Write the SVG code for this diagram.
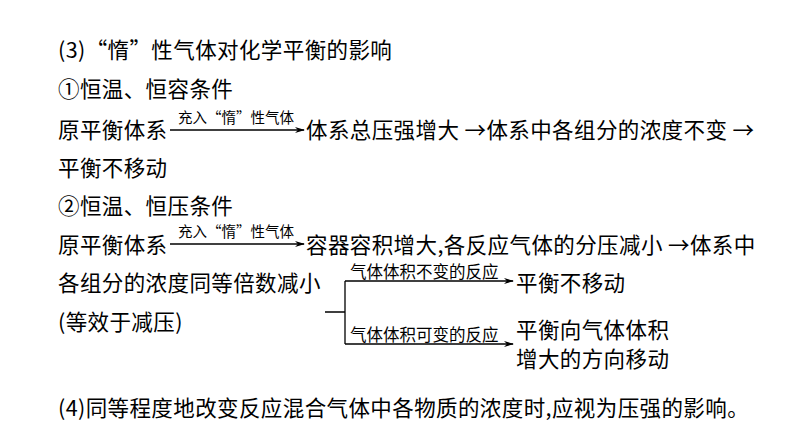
<svg xmlns="http://www.w3.org/2000/svg" width="794" height="445" viewBox="0 0 794 445">
<style>
text{font-family:"Noto Sans CJK SC","Liberation Sans",sans-serif;fill:#000}
.t{font-size:21.5px;letter-spacing:0.4px}
.s{font-size:14.5px}
.b{font-size:16.5px}
.c{stroke:#000;stroke-width:1.3;fill:none}
</style>
<defs><marker id="a" markerWidth="10" markerHeight="6" refX="9" refY="3" orient="auto" markerUnits="userSpaceOnUse"><path d="M0,0 L10,3 L0,6 L3,3z" fill="#000"/></marker></defs>
<rect width="794" height="445" fill="#fff"/>
<g id="texts">
<text class="t" x="58" y="58">(3)“惰”性气体对化学平衡的影响</text>
<text class="t" x="58" y="97">①恒温、恒容条件</text>
<text class="t" x="58" y="138">原平衡体系</text>
<text class="t" x="306" y="138">体系总压强增大 →体系中各组分的浓度不变 →</text>
<text class="t" x="58" y="176">平衡不移动</text>
<text class="t" x="58" y="214">②恒温、恒压条件</text>
<text class="t" x="58" y="253">原平衡体系</text>
<text class="t" x="306" y="253">容器容积增大,各反应气体的分压减小 →体系中</text>
<text class="t" x="58" y="291">各组分的浓度同等倍数减小</text>
<text class="t" x="58" y="330">(等效于减压)</text>
<text class="t" x="516" y="291">平衡不移动</text>
<text class="t" x="516" y="338">平衡向气体体积</text>
<text class="t" x="516" y="367">增大的方向移动</text>
<text class="t" x="58" y="416">(4)同等程度地改变反应混合气体中各物质的浓度时,应视为压强的影响。</text>
</g>
<g id="connectors">
<path class="c" d="M170,130 H304" marker-end="url(#a)"/>
<text class="s" x="178" y="123">充入“惰”性气体</text>
<path class="c" d="M170,244 H304" marker-end="url(#a)"/>
<text class="s" x="178" y="237">充入“惰”性气体</text>
<path class="c" d="M325,312 H345 M345,281 V344"/>
<path class="c" d="M345,281 H513" marker-end="url(#a)"/>
<path class="c" d="M345,344 H513" marker-end="url(#a)"/>
<text class="b" x="350" y="278">气体体积不变的反应</text>
<text class="b" x="350" y="341">气体体积可变的反应</text>
</g>
</svg>
